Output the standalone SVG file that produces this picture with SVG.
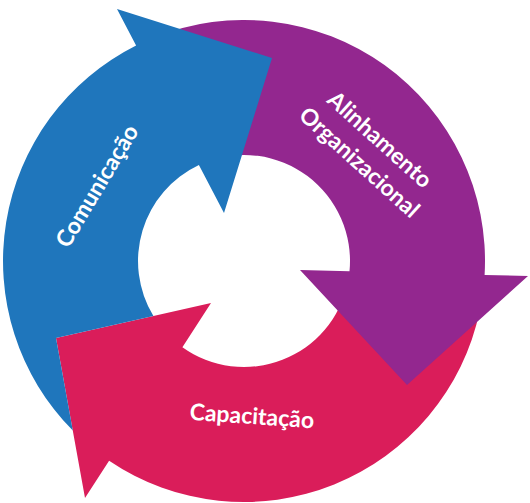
<svg xmlns="http://www.w3.org/2000/svg" width="530" height="503" viewBox="0 0 530 503">
  <style>
    .lbl { font-family: Lato, "Open Sans", "Liberation Sans", sans-serif; font-weight: bold; font-size: 23px; fill: #ffffff; text-anchor: middle; }
    .blue { fill: #1F76BC; }
    .purple { fill: #93278F; }
    .pink { fill: #DA1D5A; }
  </style>
  <rect width="530" height="503" fill="#ffffff"/>
  <g id="capacitacao">
    <path class="pink" d="M 479.7 311.1 A 241 241 0 0 1 109.1 460.7 L 85 498 L 56 338 L 211 303 L 182.4 347.3 A 106 106 0 0 0 347.7 283.0 Z"/>
    <text class="lbl" transform="translate(252,416) rotate(4)" y="8">Capacitação</text>
  </g>
  <g id="alinhamento-organizacional">
    <path class="purple" d="M 153.7 37.5 A 241 241 0 0 1 484.6 274.9 L 528 276 L 407 385 L 300 270 L 349.5 271.3 A 106 106 0 0 0 204.3 162.7 Z"/>
    <text class="lbl" transform="translate(369.5,151) rotate(42)"><tspan x="0" y="-7.5">Alinhamento</tspan><tspan x="0" y="23">Organizacional</tspan></text>
  </g>
  <g id="comunicacao">
    <path class="blue" d="M 72.8 430.6 A 241 241 0 0 1 136.1 45.5 L 117 9 L 272 58 L 224 213 L 198.9 165.1 A 106 106 0 0 0 153.4 316.0 L 56 338 Z"/>
    <text class="lbl" transform="translate(97,186) rotate(-59)" y="8">Comunicação</text>
  </g>
</svg>
